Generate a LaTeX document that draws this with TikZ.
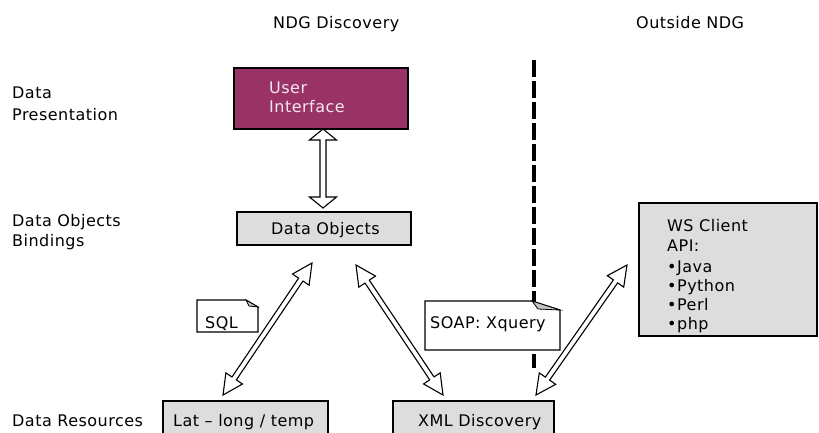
\documentclass[tikz,border=0pt]{standalone}
\usepackage{fontspec}
\setmainfont[LetterSpace=3]{DejaVu Sans}
\usetikzlibrary{calc}

\definecolor{plum}{HTML}{993366}
\definecolor{boxgray}{HTML}{DDDDDD}
\definecolor{foldgray}{HTML}{C4C4C4}
\definecolor{uitext}{HTML}{F4E6F0}

% Outlined double-headed block arrow between two named points:
% #1 from, #2 to, #3 head length, #4 head half width, #5 shaft half width
\newcommand\fatarrow[5]{%
  \pgfpointdiff{\pgfpointanchor{#1}{center}}{\pgfpointanchor{#2}{center}}%
  \pgfgetlastxy{\fadx}{\fady}%
  \pgfmathsetmacro\faang{atan2(\fady,\fadx)}%
  \pgfmathsetmacro\falen{veclen(\fadx,\fady)}%
  \begin{scope}[shift={(#1)}, rotate=\faang, x=1pt, y=1pt]
    \draw[blockarrow] (0,0) -- (#3,#4) -- (#3,#5) -- (\falen-#3,#5)
      -- (\falen-#3,#4) -- (\falen,0) -- (\falen-#3,-#4) -- (\falen-#3,-#5)
      -- (#3,-#5) -- (#3,-#4) -- cycle;
  \end{scope}%
}

\begin{document}
\begin{tikzpicture}[x=1pt, y=-1pt,
  txt/.style={font=\fontsize{16}{18}\selectfont, inner sep=0pt, anchor=base west},
  box/.style={draw=black, line width=1.4pt, fill=boxgray, anchor=north west,
    inner sep=0pt, outer sep=0pt},
  blockarrow/.style={draw=black, line width=1.1pt, fill=white, line join=miter},
  note/.style={draw=black, line width=1.1pt, fill=white, line join=miter},
  fold/.style={draw=black, line width=0.8pt, fill=foldgray},
  divider/.style={line width=4pt, dash pattern=on 17pt off 4pt}]

\useasboundingbox (0,0) rectangle (819,432);
\clip (0,0) rectangle (819,432);

% column headings
\node[txt] (hndg) at (273,28) {NDG Discovery};
\node[txt] (hout) at (636,28) {Outside NDG};

% row labels
\node[txt] (rp1) at (12,98) {Data};
\node[txt] (rp2) at (12,120) {Presentation};
\node[txt] (rb1) at (12,226) {Data Objects};
\node[txt] (rb2) at (12,246) {Bindings};
\node[txt] (rr1) at (12,426) {Data Resources};

% boundary between NDG and the outside world
\coordinate (divtop) at (534,60);
\coordinate (divbot) at (534,368);
\draw[divider] (divtop) -- (divbot);

% boxes
\node[box, fill=plum, minimum width=174pt, minimum height=61pt] (ui) at (234,68) {};
\node[txt, text=uitext] (uit1) at (269,93) {User};
\node[txt, text=uitext] (uit2) at (269,112) {Interface};

\node[box, minimum width=174pt, minimum height=33pt] (do) at (237,212) {};
\node[txt] (dot) at (271,234) {Data Objects};

\node[box, minimum width=165pt, minimum height=50pt] (lat) at (163,401) {};
\node[txt] (latt) at (173,426) {Lat – long / temp};

\node[box, minimum width=161pt, minimum height=50pt] (xml) at (393,401) {};
\node[txt] (xmlt) at (418,426) {XML Discovery};

\node[box, minimum width=178pt, minimum height=133pt] (ws) at (639,203) {};
\node[txt] (ws1) at (667,231) {WS Client};
\node[txt] (ws2) at (667,251) {API:};
\node[txt] (ws3) at (667,272) {•Java};
\node[txt] (ws4) at (667,291) {•Python};
\node[txt] (ws5) at (667,310) {•Perl};
\node[txt] (ws6) at (667,329) {•php};

% arrow end points
\coordinate (uiA) at (323,129);
\coordinate (doA) at (323,208);
\coordinate (a1s) at (223,395);
\coordinate (a1e) at (312,263);
\coordinate (a2s) at (356,265);
\coordinate (a2e) at (443,395);
\coordinate (a3s) at (536,395);
\coordinate (a3e) at (627,265);

\fatarrow{uiA}{doA}{11}{13.5}{3}
\fatarrow{a1s}{a1e}{20}{10}{2.6}
\fatarrow{a2s}{a2e}{20}{10}{2.6}
\fatarrow{a3s}{a3e}{20}{10}{2.6}

% protocol notes with a turned-down corner
\draw[note] (197,300) -- (246,300) -- (258,307) -- (258,332) -- (197,332) -- cycle;
\draw[fold] (246,300) -- (249,306) -- (258,307) -- cycle;
\node[txt] (sql) at (205,328) {SQL};

\draw[note] (425,301) -- (532,301) -- (560,310) -- (560,350) -- (425,350) -- cycle;
\draw[fold] (532,301) -- (538,309) -- (560,310) -- cycle;
\node[txt] (soap) at (430,328) {SOAP: Xquery};

\end{tikzpicture}
\end{document}
